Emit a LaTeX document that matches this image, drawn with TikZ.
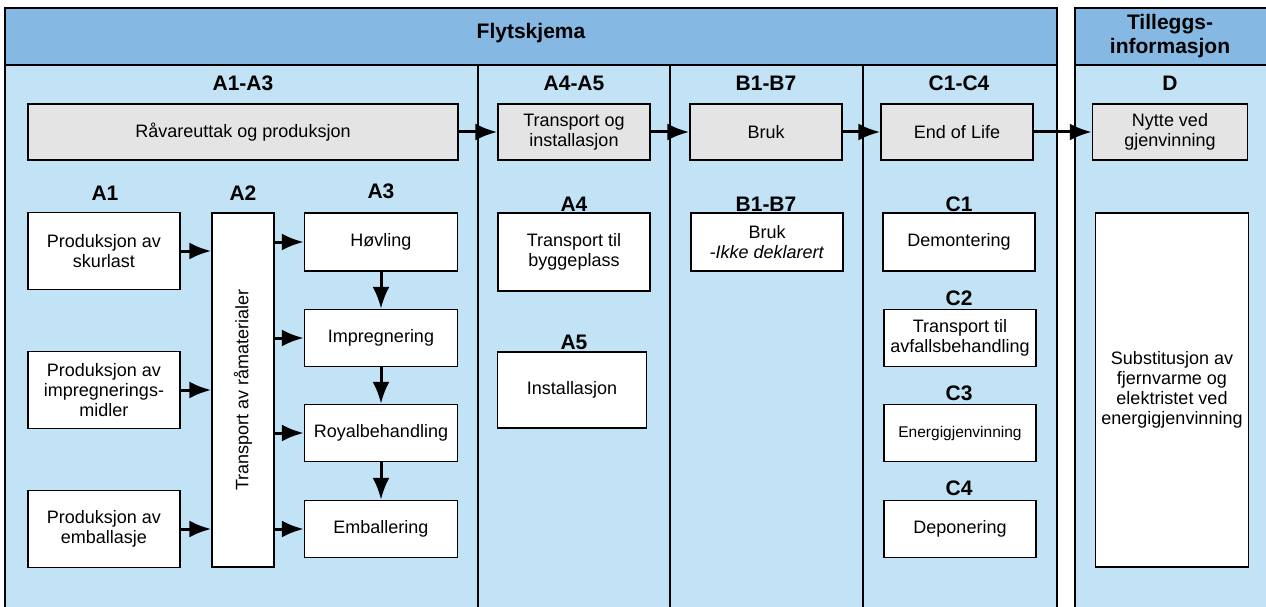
\documentclass[tikz,border=0pt]{standalone}
\usepackage{fontspec}
\setmainfont{Liberation Sans}
\usepackage{graphicx}
\usetikzlibrary{arrows.meta}
\definecolor{headblue}{HTML}{85B8E3}
\definecolor{bodyblue}{HTML}{C2E3F6}
\definecolor{stagegrey}{HTML}{E4E4E4}
\tikzstyle{procbox}=[draw, line width=1.5pt, fill=white, align=center, inner sep=1pt,
    minimum width=152pt, minimum height=57pt, font=\fontsize{18}{20}\selectfont]
\tikzstyle{stagebox}=[procbox, fill=stagegrey, minimum height=56pt]
\tikzstyle{modlabel}=[font=\bfseries\fontsize{21}{24}\selectfont]
\newcommand{\procbox}{\node[procbox]}
\newcommand{\stagebox}{\node[stagebox]}
\newcommand{\modlabel}{\node[modlabel]}

\begin{document}
\begin{tikzpicture}[x=1pt, y=-1pt
    ,>={Latex[length=22pt,width=17pt]}
    ,every edge/.style={draw, line width=3pt, ->}
]
\useasboundingbox (0,0) rectangle (1266,607);
\clip (0,0) rectangle (1266,607);
% frames
\fill[bodyblue] (5,65) rectangle (1057,620);
\fill[headblue] (5,8) rectangle (1057,65);
\fill[bodyblue] (1075,65) rectangle (1280,620);
\fill[headblue] (1075,8) rectangle (1280,65);
\draw[line width=2pt] (5,620) -- (5,8) -- (1057,8) -- (1057,620)
    (5,65) -- (1057,65)
    (478,65) -- (478,620) (670,65) -- (670,620) (863,65) -- (863,620);
\draw[line width=2pt] (1075,620) -- (1075,8) -- (1280,8) (1075,65) -- (1280,65);
\node[modlabel, font=\bfseries\fontsize{21}{24}\selectfont] (flyt) at (531,33) {Flytskjema};
\node[modlabel, align=center] (tillegg) at (1170,36) {Tilleggs-\\informasjon};

\modlabel (a13) at (243,83) {A1-A3};
\modlabel (a45) at (574,83) {A4-A5};
\modlabel (b17) at (766,83) {B1-B7};
\modlabel (c14) at (959,83) {C1-C4};
\modlabel (dd) at (1170,83) {D};

\stagebox[minimum width=430pt] (raw) at (243,132) {Råvareuttak og produksjon};
\stagebox (trans) at (574,132) {Transport og\\installasjon};
\stagebox (bruk) at (766,132) {Bruk};
\stagebox (eol) at (957,132) {End of Life};
\stagebox[minimum width=155pt] (nytte) at (1170,132) {Nytte ved\\gjenvinning};

% A1-A3
\modlabel (a1) at (105,193) {A1};
\modlabel (a2) at (243,193) {A2};
\modlabel (a3) at (381,191) {A3};
\procbox[minimum height=77pt] (skur) at (104,251) {Produksjon av\\skurlast};
\procbox[minimum height=77pt] (impm) at (104,390) {Produksjon av\\impregnerings-\\midler};
\procbox[minimum height=77pt] (emb) at (104,529) {Produksjon av\\emballasje};
\procbox[minimum width=62pt, minimum height=354pt] (trm) at (243,390)
    {\rotatebox{90}{Transport av råmaterialer}};
\procbox[minimum width=153pt, minimum height=58pt] (hov) at (381,242) {Høvling};
\procbox[minimum width=153pt] (imp) at (381,338) {Impregnering};
\procbox[minimum width=153pt] (roy) at (381,433) {Royalbehandling};
\procbox[minimum width=153pt] (emba) at (381,529) {Emballering};

% A4-A5
\modlabel (a4) at (574,204) {A4};
\modlabel (a5) at (574,342) {A5};
\procbox[minimum height=78pt] (bygg) at (574,252) {Transport til\\byggeplass};
\procbox[minimum width=149pt, minimum height=76pt] (inst) at (572,390) {Installasjon};

% B1-B7
\modlabel (b17b) at (766,204) {B1-B7};
\procbox[minimum height=58pt] (brukb) at (767,242) {Bruk\\\textit{-Ikke deklarert}};

% C1-C4
\modlabel (c1) at (959,204) {C1};
\modlabel (c2) at (959,298) {C2};
\modlabel (c3) at (959,393) {C3};
\modlabel (c4) at (959,488) {C4};
\procbox[minimum height=58pt] (demo) at (959,242) {Demontering};
\procbox (avf) at (960,338) {Transport til\\avfallsbehandling};
\procbox[font=\fontsize{15.5}{18}\selectfont] (energ) at (960,433) {Energigjenvinning};
\procbox (depo) at (960,529) {Deponering};

% D
\procbox[minimum width=153pt, minimum height=354pt] (subs) at (1172,390)
    {Substitusjon av\\fjernvarme og\\elektristet ved\\energigjenvinning};

\path
(raw) edge (trans)
(trans) edge (bruk)
(bruk) edge (eol)
(eol) edge (nytte)
(skur.east) edge (skur.east -| trm.west)
(impm.east) edge (impm.east -| trm.west)
(emb.east) edge (emb.east -| trm.west)
(hov.west -| trm.east) edge (hov.west)
(imp.west -| trm.east) edge (imp.west)
(roy.west -| trm.east) edge (roy.west)
(emba.west -| trm.east) edge (emba.west)
(hov) edge (imp)
(imp) edge (roy)
(roy) edge (emba)
;
\end{tikzpicture}
\end{document}
